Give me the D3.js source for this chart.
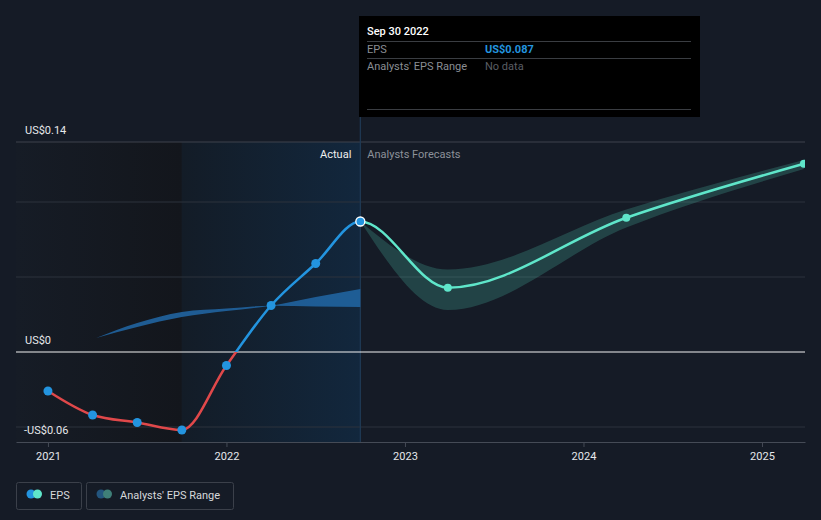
<!DOCTYPE html>
<html><head><meta charset="utf-8">
<script src="https://cdn.jsdelivr.net/npm/d3@7"></script>
<style>
html,body{margin:0;padding:0;background:#151b26;}
svg{display:block;font-family:Roboto,"Noto Sans",sans-serif;}
</style></head>
<body>
<svg id="chart" width="821" height="520"></svg>
<script>
// ---- data ----
const actualDates = [2021.0, 2021.25, 2021.5, 2021.75, 2022.0, 2022.25, 2022.5, 2022.75];
const actualEPS   = [-0.026, -0.042, -0.047, -0.052, -0.009, 0.031, 0.059, 0.087];
const forecastDates = [2022.75, 2023.24, 2024.24, 2025.235];
const forecastEPS   = [0.087, 0.0429, 0.0895, 0.1255];
const forecastLow   = [0.087, 0.028, 0.083, 0.122];
const forecastHigh  = [0.087, 0.055, 0.095, 0.128];
const pastRangeDates = [2021.27, 2021.5, 2021.75, 2022.0, 2022.25, 2022.5, 2022.75];
const pastRangeA     = [0.0093, 0.0193, 0.0267, 0.029, 0.0309, 0.0303, 0.030];
const pastRangeB     = [0.0093, 0.0167, 0.0233, 0.0273, 0.0309, 0.0367, 0.042];
const xTickYears  = [2021, 2022, 2023, 2024, 2025];
const xTickLabels = ["2021", "2022", "2023", "2024", "2025"];
const yLabelValues = [0.14, 0, -0.06];
const yLabelTexts  = ["US$0.14", "US$0", "-US$0.06"];
const yGridValues  = [0.14, 0.1, 0.05, -0.05];
const pastStart = 2021.75, actualEnd = 2022.75;

(function () {
const svg = d3.select("#chart");
const pL = 16, pR = 805, pT = 142, pB = 442;
const x = d3.scaleLinear().domain([2020.821, 2025.241]).range([pL, pR]);
const y = d3.scaleLinear().domain([-0.06, 0.14]).range([pB, pT]);

const defs = svg.append("defs");
const g1 = defs.append("linearGradient").attr("id","darkGrad").attr("x1","0").attr("x2","1").attr("y1","0").attr("y2","0");
g1.append("stop").attr("offset","0").attr("stop-color","#161c26");
g1.append("stop").attr("offset","1").attr("stop-color","#13161c");
const g2 = defs.append("linearGradient").attr("id","blueGrad").attr("x1","0").attr("x2","1").attr("y1","0").attr("y2","0");
g2.append("stop").attr("offset","0").attr("stop-color","#131c27");
g2.append("stop").attr("offset","1").attr("stop-color","#12273d");

const xe = x(actualEnd);
defs.append("clipPath").attr("id","plotClip").append("rect")
  .attr("x", pL).attr("y", 0).attr("width", pR - pL).attr("height", pB);
defs.append("clipPath").attr("id","fcClip").append("rect")
  .attr("x", xe).attr("y", 0).attr("width", pR - xe).attr("height", pB);
defs.append("clipPath").attr("id","posClip").append("rect")
  .attr("x", 0).attr("y", 0).attr("width", xe).attr("height", y(0));
defs.append("clipPath").attr("id","negClip").append("rect")
  .attr("x", 0).attr("y", y(0)).attr("width", xe).attr("height", 520 - y(0));

// shaded regions
svg.append("rect").attr("x", pL).attr("y", pT).attr("width", x(pastStart) - pL).attr("height", pB - pT).attr("fill","url(#darkGrad)");
svg.append("rect").attr("x", x(pastStart)).attr("y", pT).attr("width", xe - x(pastStart)).attr("height", pB - pT).attr("fill","url(#blueGrad)");

// gridlines
svg.append("g").selectAll("line").data(yGridValues).join("line")
  .attr("x1", pL).attr("x2", pR).attr("y1", d => y(d)).attr("y2", d => y(d))
  .attr("stroke", d => d === 0.14 ? "#3e434d" : "#2c323c").attr("stroke-width", 1);

// vertical divider / tooltip line
svg.append("line").attr("x1", xe).attr("x2", xe).attr("y1", 16).attr("y2", pB)
  .attr("stroke", "#1f3a55").attr("stroke-width", 1.2);

// x axis
const xAxis = d3.axisBottom(x).tickValues(xTickYears).tickFormat((d,i) => xTickLabels[i]).tickSize(5).tickSizeOuter(0);
const ax = svg.append("g").attr("transform", `translate(0,${pB})`).call(xAxis);
ax.select(".domain").attr("stroke", "#454b56");
ax.selectAll(".tick line").attr("stroke", "#454b56");
ax.selectAll(".tick text").attr("fill", "#e6e8eb").attr("font-size", 11).attr("dy", "0.95em").attr("font-family","Roboto,sans-serif");

// zero line
svg.append("line").attr("x1", pL).attr("x2", pR).attr("y1", y(0)).attr("y2", y(0)).attr("stroke", "#f2f2f2").attr("stroke-width", 1.2);

// y labels
svg.append("g").selectAll("text").data(yLabelValues).join("text")
  .attr("x", d => d < 0 ? 24 : 25).attr("y", d => y(d) - 8)
  .attr("fill", "#e6e8eb").attr("font-size", 11)
  .text((d,i) => yLabelTexts[i]);

// past range band
const pastBand = pastRangeDates.map((d,i) => ({d, a: pastRangeA[i], b: pastRangeB[i]}));
svg.append("path").datum(pastBand)
  .attr("d", d3.area().x(p => x(p.d)).y0(p => y(p.a)).y1(p => y(p.b)).curve(d3.curveMonotoneX))
  .attr("fill", "#20609a").attr("opacity", 0.95);

// full EPS series (actual + forecast) for continuous curve shape
const act = actualDates.map((d,i) => ({d, v: actualEPS[i]}));
const fc = forecastDates.map((d,i) => ({d, v: forecastEPS[i], lo: forecastLow[i], hi: forecastHigh[i]}));
const full = act.concat(fc.slice(1));
const lineGen = d3.line().x(p => x(p.d)).y(p => y(p.v)).curve(d3.curveMonotoneX);

// forecast band
const plot = svg.append("g").attr("clip-path", "url(#plotClip)");
plot.append("path").datum(fc)
  .attr("d", d3.area().x(p => x(p.d)).y0(p => y(p.lo)).y1(p => y(p.hi)).curve(d3.curveMonotoneX))
  .attr("fill", "#58e8c8").attr("fill-opacity", 0.2);

// forecast line
const fcG = plot.append("g").attr("clip-path", "url(#fcClip)");
fcG.append("path").datum(full).attr("d", lineGen)
  .attr("fill", "none").attr("stroke", "#5fe6ca").attr("stroke-width", 2.5);
plot.append("g").selectAll("circle").data(fc.slice(1)).join("circle")
  .attr("cx", p => x(p.d)).attr("cy", p => y(p.v)).attr("r", 4).attr("fill", "#5fe6ca");

// actual line
svg.append("path").datum(full).attr("d", lineGen).attr("fill","none").attr("stroke","#2394df").attr("stroke-width",2.5).attr("clip-path","url(#posClip)");
svg.append("path").datum(full).attr("d", lineGen).attr("fill","none").attr("stroke","#e0484a").attr("stroke-width",2.5).attr("clip-path","url(#negClip)");
svg.append("g").selectAll("circle").data(act).join("circle")
  .attr("cx", p => x(p.d)).attr("cy", p => y(p.v))
  .attr("r", 4.5)
  .attr("fill", "#2394df")
  .attr("stroke", (p,i) => i === act.length - 1 ? "#ffffff" : "none")
  .attr("stroke-width", 1.3);

// Actual / Forecast labels
svg.append("text").attr("x", xe - 9).attr("y", 158).attr("text-anchor","end")
  .attr("fill","#f0f0f0").attr("font-size",11).text("Actual");
svg.append("text").attr("x", xe + 7).attr("y", 158)
  .attr("fill","#8c9199").attr("font-size",11).text("Analysts Forecasts");

// tooltip
const tt = svg.append("g");
tt.append("rect").attr("x", 359).attr("y", 16).attr("width", 341).attr("height", 101).attr("fill", "#000000");
tt.append("text").attr("x", 367).attr("y", 35).attr("fill", "#ffffff").attr("font-size", 11).attr("font-weight", 500).text("Sep 30 2022");
[41.5, 58.5, 109.5].forEach(yy => tt.append("line").attr("x1", 367).attr("x2", 691).attr("y1", yy).attr("y2", yy).attr("stroke", "#3a3d42").attr("stroke-width", 1));
tt.append("text").attr("x", 367).attr("y", 53).attr("fill", "#8a8e94").attr("font-size", 11).text("EPS");
tt.append("text").attr("x", 485).attr("y", 53).attr("fill", "#2394df").attr("font-size", 11).attr("font-weight", 700).text("US$0.087");
tt.append("text").attr("x", 367).attr("y", 70).attr("fill", "#8a8e94").attr("font-size", 11).text("Analysts' EPS Range");
tt.append("text").attr("x", 485).attr("y", 70).attr("fill", "#5a5e64").attr("font-size", 11).text("No data");

// legend
const lg = svg.append("g");
lg.append("rect").attr("x", 16.5).attr("y", 482.5).attr("width", 65).attr("height", 27).attr("rx", 2).attr("fill", "none").attr("stroke", "#3b404a");
lg.append("circle").attr("cx", 31).attr("cy", 494).attr("r", 4.5).attr("fill", "#2394df");
lg.append("circle").attr("cx", 37.5).attr("cy", 494).attr("r", 4.5).attr("fill", "#5fe6ca");
lg.append("text").attr("x", 50).attr("y", 498.5).attr("fill", "#d6d8db").attr("font-size", 11).text("EPS");
lg.append("rect").attr("x", 86.5).attr("y", 482.5).attr("width", 147).attr("height", 27).attr("rx", 2).attr("fill", "none").attr("stroke", "#3b404a");
lg.append("circle").attr("cx", 101).attr("cy", 494).attr("r", 4.5).attr("fill", "#23557e");
lg.append("circle").attr("cx", 107.5).attr("cy", 494).attr("r", 4.5).attr("fill", "#3f7f78");
lg.append("text").attr("x", 120).attr("y", 498.5).attr("fill", "#d6d8db").attr("font-size", 11).text("Analysts' EPS Range");
})();
</script>
</body></html>
